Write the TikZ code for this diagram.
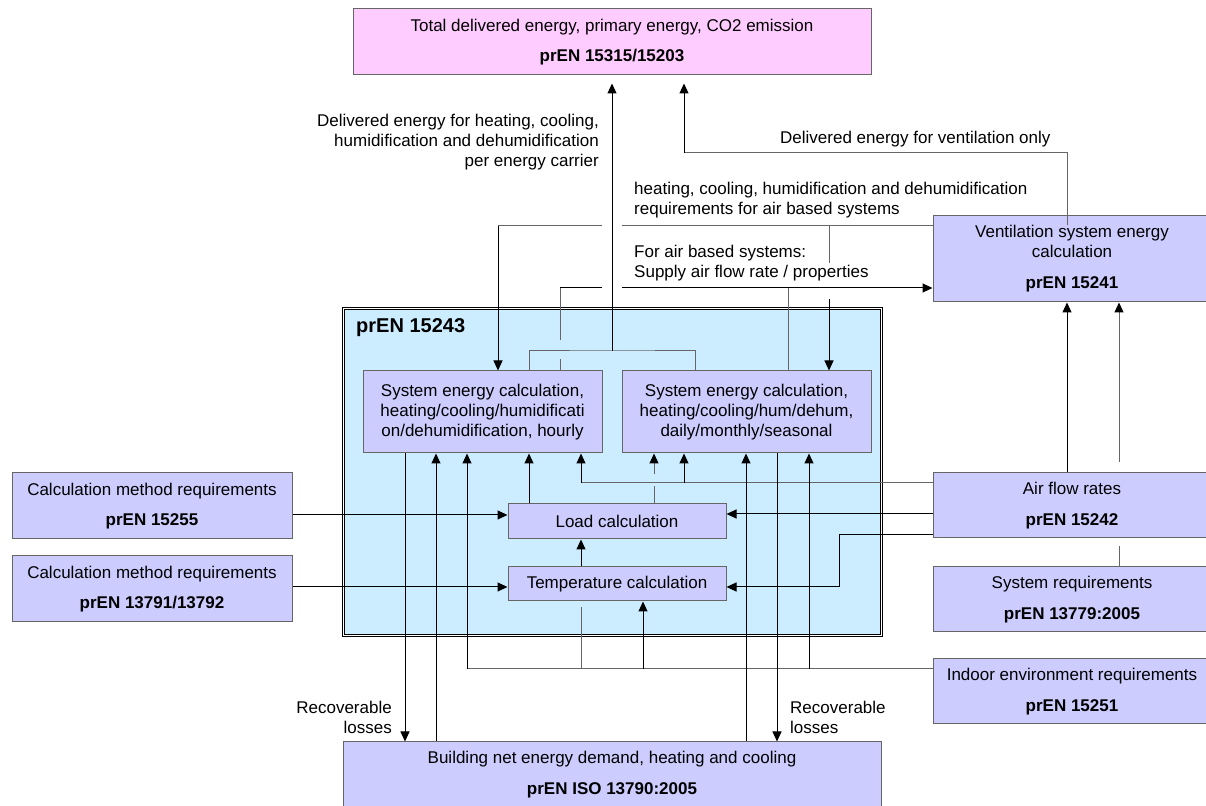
\documentclass[tikz,border=0pt]{standalone}
\usepackage{fontspec}
\setmainfont{Liberation Sans}
\usetikzlibrary{arrows.meta}
\definecolor{boxfill}{HTML}{CCCCFF}
\definecolor{topfill}{HTML}{FFCCFF}
\definecolor{framefill}{HTML}{CCECFF}
\begin{document}
\begin{tikzpicture}[x=1pt, y=1pt,
  every node/.style={font=\fontsize{17}{20}\selectfont},
  box/.style={draw=black!60, line width=1pt, fill=boxfill, inner sep=0pt, align=center, minimum height=65pt},
  wire/.style={line width=1pt, black},
  wirelt/.style={line width=1pt, black!60},
  arr/.style={wire, -{Triangle[length=10pt,width=9pt]}},
  arrlt/.style={wirelt, -{Triangle[length=10pt,width=9pt,color=black]}},
  lbl/.style={inner sep=0pt}]
\useasboundingbox (0,0) rectangle (1206,805);
\node[box, fill=topfill, minimum width=518pt, minimum height=66pt] (tgt) at (612,763){Total delivered energy, primary energy, CO2 emission\\[10pt]\textbf{prEN 15315/15203}};
\node[box, minimum width=278pt, minimum height=86pt] (vent) at (1072,546){Ventilation system energy\\calculation\\[11pt]\textbf{prEN 15241}};
\node[draw, double, double distance=1.5pt, line width=0.8pt, fill=framefill, minimum width=538pt, minimum height=327pt] (frame) at (612.4,333){};
\node[lbl, anchor=west, font=\fontsize{20}{24}\selectfont\bfseries] (framelbl) at (356,477){prEN 15243};
\node[box, minimum width=239pt, minimum height=82pt] (hourly) at (482.5,393){System energy calculation,\\heating/cooling/humidificati\\on/dehumidification, hourly};
\node[box, minimum width=249pt, minimum height=82pt] (seasonal) at (746.5,393){System energy calculation,\\heating/cooling/hum/dehum,\\daily/monthly/seasonal};
\node[box, minimum width=218pt, minimum height=35pt] (load) at (617,283.5){Load calculation};
\node[box, minimum width=218pt, minimum height=34pt] (temp) at (617,221){Temperature calculation};
\node[box, minimum width=280pt, minimum height=66pt] (calc1) at (152,299){Calculation method requirements\\[10pt]\textbf{prEN 15255}};
\node[box, minimum width=280pt, minimum height=66pt] (calc2) at (152,216){Calculation method requirements\\[10pt]\textbf{prEN 13791/13792}};
\node[box, minimum width=278pt] (airflow) at (1072,299.5){Air flow rates\\[11pt]\textbf{prEN 15242}};
\node[box, minimum width=278pt] (sysreq) at (1072,205.5){System requirements\\[11pt]\textbf{prEN 13779:2005}};
\node[box, minimum width=278pt] (indoor) at (1072,113.5){Indoor environment requirements\\[11pt]\textbf{prEN 15251}};
\node[box, minimum width=538pt, minimum height=66pt] (bottom) at (612,30){Building net energy demand, heating and cooling\\[11pt]\textbf{prEN ISO 13790:2005}};

\coordinate (brk) at (612,454);
\coordinate (vtop) at (684,652);
\coordinate (reqL) at (498,579);
\coordinate (reqR) at (829,579);
\coordinate (supL) at (560,517);
\coordinate (supR) at (788,517);
\coordinate (afb) at (581,322);
\coordinate (inb) at (467,136);
\coordinate (stp) at (839,270);

\draw[wirelt] (hourly.north -| 529,0) |- (brk) -| (seasonal.north -| 695,0);
\draw[wirelt] (vent.west |- reqL) -- (reqL);
\draw[arr] (reqL) -- (reqL |- hourly.north);
\draw[wirelt] (reqR) -- ++(0,-37);
\draw[arr] (reqR) ++(0,-73) -- (reqR |- seasonal.north);
\draw[wirelt] (hourly.north -| supL) -- ++(0,11);
\draw[wirelt] (supL) ++(0,-52) -- (supL);
\draw[arr] (supL) -- (vent.west |- supL);
\draw[wirelt] (seasonal.north -| supR) -- (supR);
\draw[white, line width=20pt, shorten <=50pt, shorten >=124pt] (brk) -- (brk |- tgt.south);
\draw[arr, shorten >=8pt] (brk) -- (brk |- tgt.south);
\draw[wirelt] ([xshift=-5pt,yshift=-10pt]vent.north) |- (vtop);
\draw[arr, shorten >=8pt] (vtop) -- (vtop |- tgt.south);

\draw[arr] (hourly.south -| 405,0) -- (bottom.north -| 405,0);
\draw[arr] (bottom.north -| 436,0) -- (hourly.south -| 436,0);
\draw[wirelt] (indoor.west |- inb) -- (inb);
\draw[arr] (inb) -- (inb |- hourly.south);
\draw[arr] (load.north -| 529,0) -- (hourly.south -| 529,0);
\draw[wirelt] (airflow.west |- afb) -- (afb);
\draw[arr] (afb) -- (afb |- hourly.south);
\draw[arr] (afb -| 684,0) -- (seasonal.south -| 684,0);
\draw[wirelt] (load.north -| 654,0) -- ++(0,17);
\draw[arrlt] (load.north -| 654,0) ++(0,29) -- (seasonal.south -| 654,0);
\draw[arr] (bottom.north -| 746,0) -- (seasonal.south -| 746,0);
\draw[arr] (seasonal.south -| 777,0) -- (bottom.north -| 777,0);
\draw[arr] (inb -| 809,0) -- (seasonal.south -| 809,0);
\draw[arr] (inb -| 643,0) -- (temp.south -| 643,0);
\draw[wirelt, shorten >=6pt] (inb -| 581,0) -- (temp.south -| 581,0);

\draw[arr] (calc1.east |- 0,290) -- (load.west |- 0,290);
\draw[arr] (calc2.east |- 0,218) -- (temp.west |- 0,218);
\draw[arr] (airflow.west |- 0,291) -- (load.east |- 0,291);
\draw[arr] (airflow.west |- stp) -- (stp) |- (temp.east |- 0,218);
\draw[arr] (temp.north -| 581,0) -- (load.south -| 581,0);

\draw[arr] (airflow.north -| 1067,0) -- (vent.south -| 1067,0);
\draw[wirelt, shorten >=8pt] (sysreq.north -| 1119,0) -- (airflow.south -| 1119,0);
\draw[arrlt, shorten <=10pt] (airflow.north -| 1119,0) -- (vent.south -| 1119,0);

\node[lbl, anchor=east, align=right] (dellbl) at (599,663){Delivered energy for heating, cooling,\\humidification and dehumidification\\per energy carrier};
\node[lbl, anchor=west] (ventlbl) at (780,666){Delivered energy for ventilation only};
\node[lbl, anchor=west, align=left] (reqlbl) at (634,604.5){heating, cooling, humidification and dehumidification\\requirements for air based systems};
\node[lbl, anchor=west, align=left] (suplbl) at (634,542){For air based systems:\\Supply air flow rate / properties};
\node[lbl, anchor=east, align=right] (loss1) at (392,88){Recoverable\\losses};
\node[lbl, anchor=west, align=left] (loss2) at (790,88){Recoverable\\losses};
\end{tikzpicture}
\end{document}
